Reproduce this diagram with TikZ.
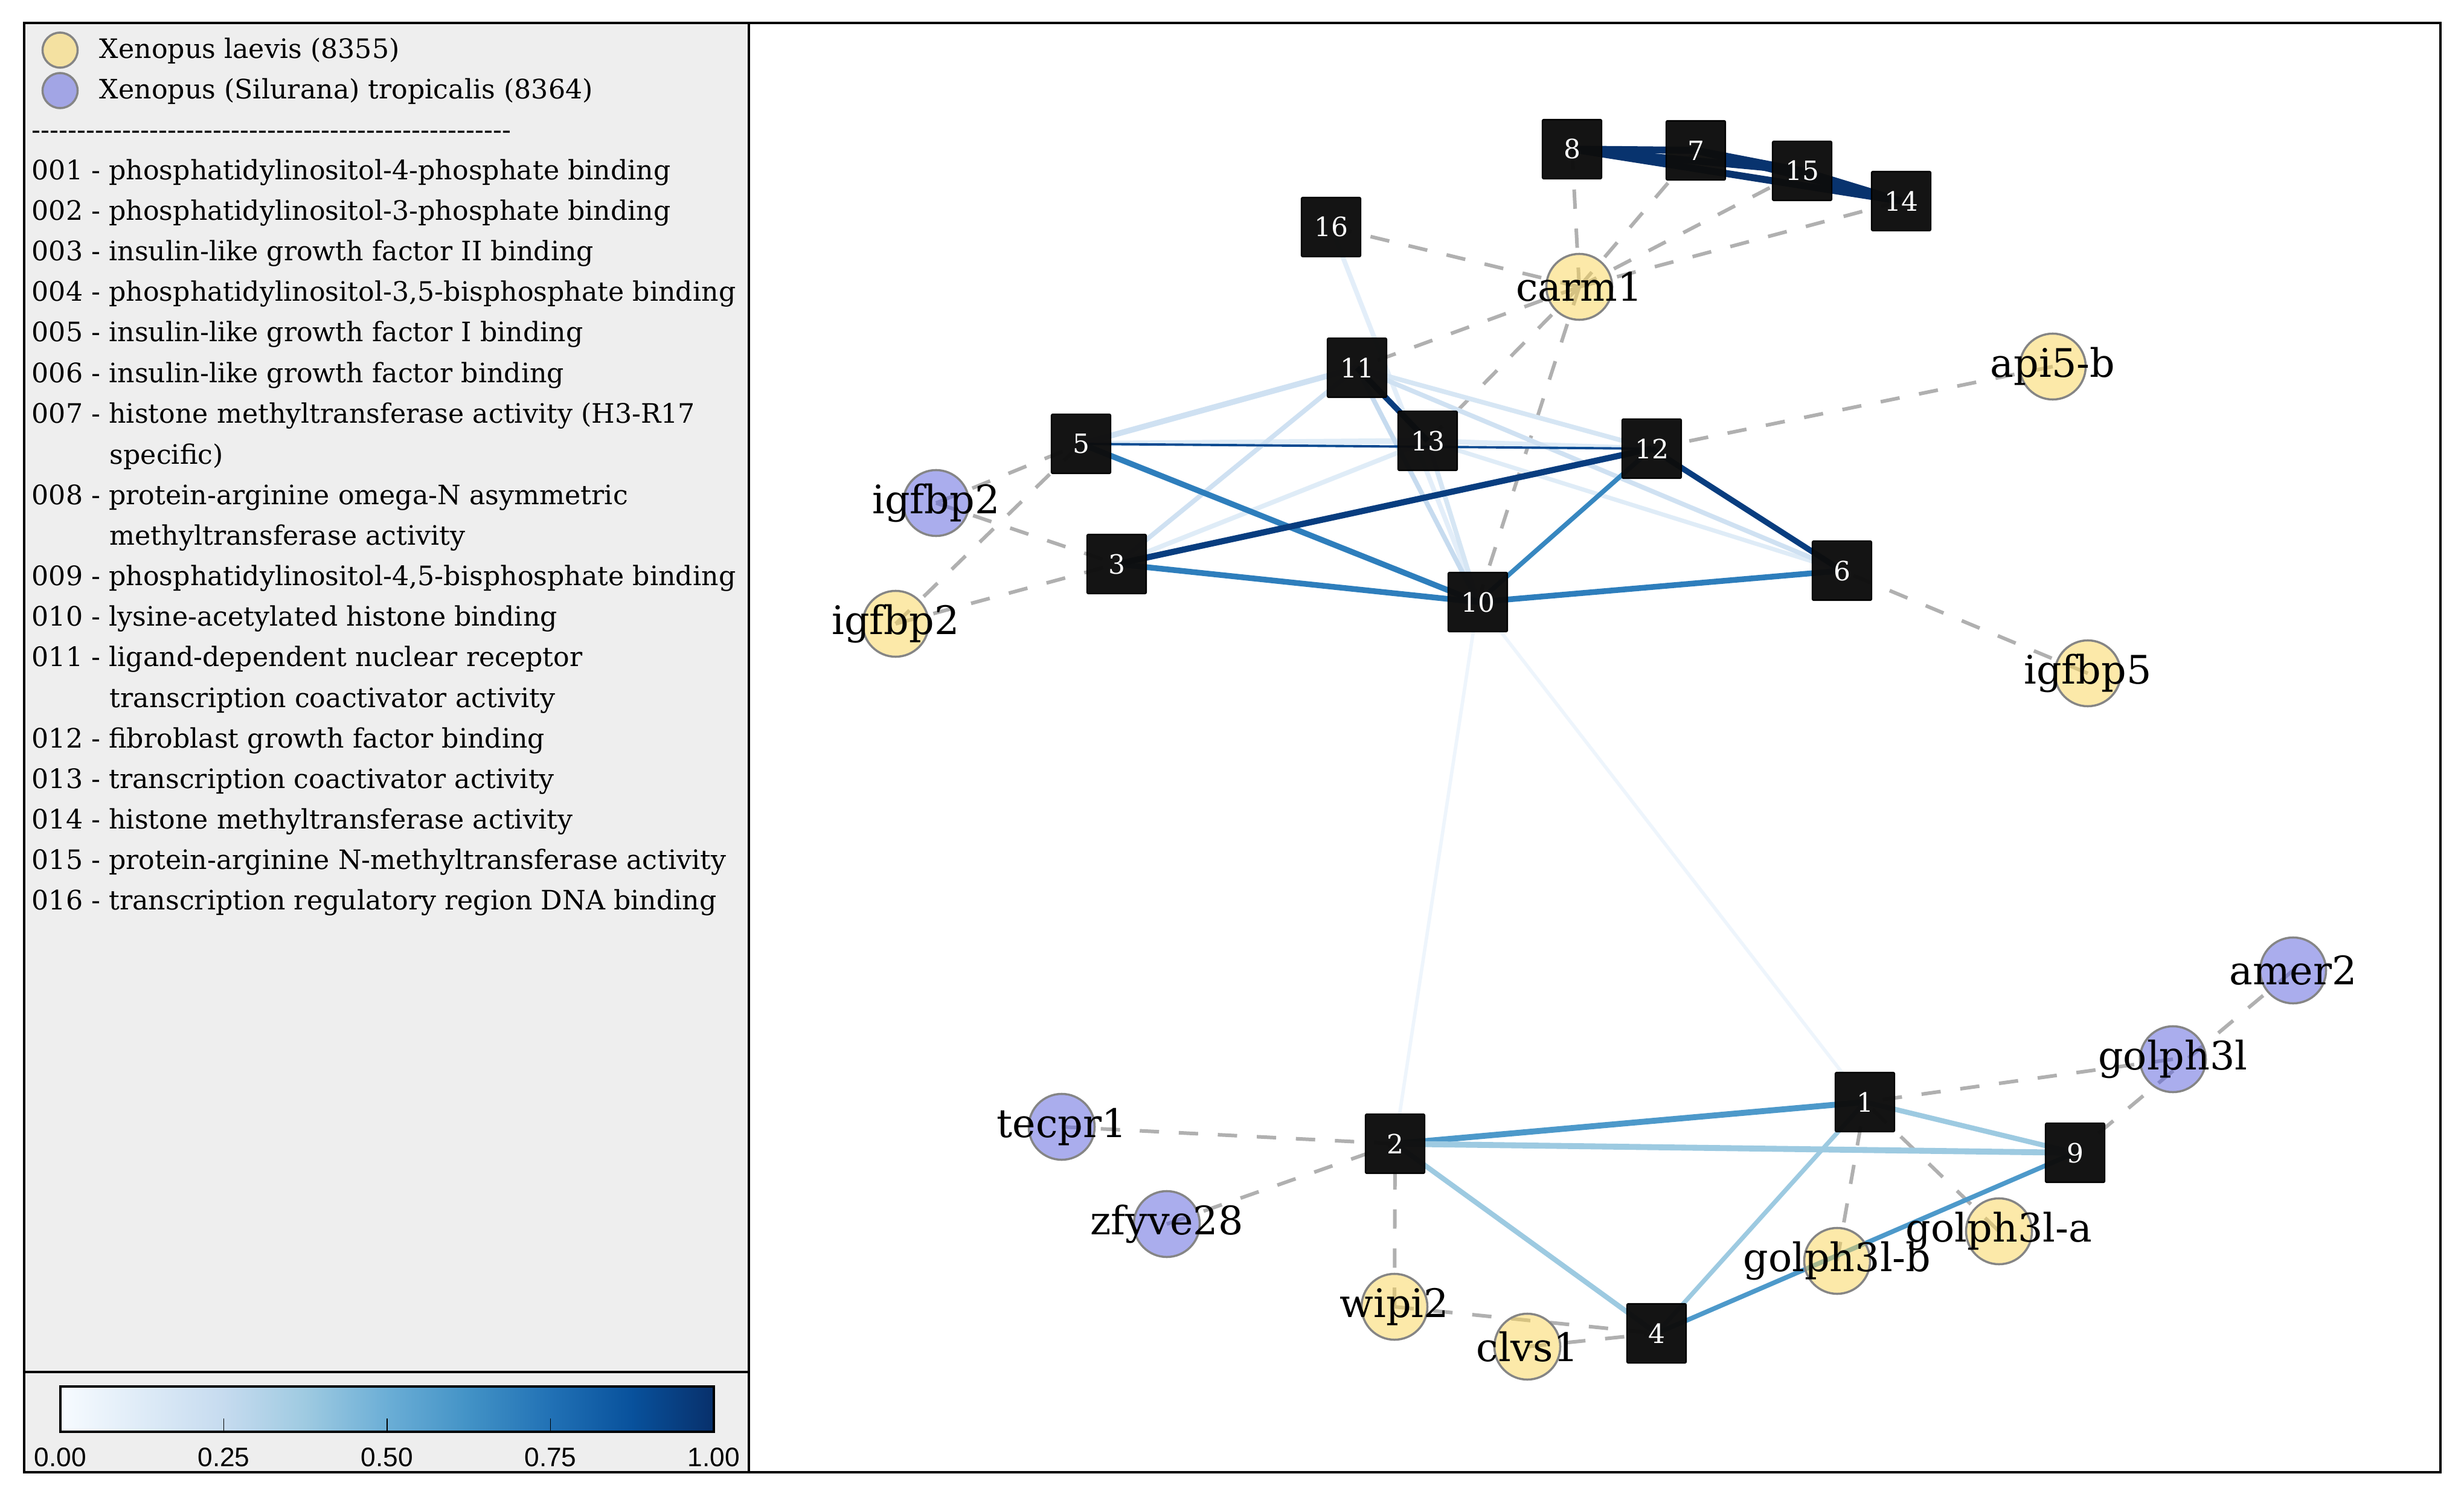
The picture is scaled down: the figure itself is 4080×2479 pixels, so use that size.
\documentclass[tikz,border=0pt]{standalone}
\usepackage{fontspec}
\setmainfont{DejaVu Serif}
\newfontfamily\tickfont{Liberation Sans}
\pgfdeclarelayer{bg}
\pgfdeclarelayer{edges}
\pgfsetlayers{bg,edges,main}
\definecolor{panel}{HTML}{EEEEEE}
\definecolor{yel}{RGB}{251,213,85}
\definecolor{blu}{RGB}{87,93,221}
\definecolor{cedge}{HTML}{858585}
\definecolor{dgray}{HTML}{B0B0B0}
\definecolor{sqfill}{HTML}{0D0D0D}
\definecolor{cA}{HTML}{08336E}
\definecolor{cB}{HTML}{083D7F}
\definecolor{cC}{HTML}{084A91}
\definecolor{cD}{HTML}{2E7EBC}
\definecolor{cE}{HTML}{3787C0}
\definecolor{cF}{HTML}{4D99CA}
\definecolor{cG}{HTML}{9DCAE1}
\definecolor{Lone}{HTML}{C6DBEF}
\definecolor{Ltwo}{HTML}{CFE1F2}
\definecolor{Lthree}{HTML}{D6E6F4}
\definecolor{Lfour}{HTML}{DFECF7}
\definecolor{Lfive}{HTML}{E3EEF9}
\definecolor{Lsix}{HTML}{EEF5FC}
\definecolor{bzero}{HTML}{F7FBFF}
\definecolor{bone}{HTML}{DEEBF7}
\definecolor{btwo}{HTML}{C6DBEF}
\definecolor{bthree}{HTML}{9ECAE1}
\definecolor{bfour}{HTML}{6BAED6}
\definecolor{bfive}{HTML}{4292C6}
\definecolor{bsix}{HTML}{2171B5}
\definecolor{bseven}{HTML}{08519C}
\definecolor{beight}{HTML}{08306B}
\begin{document}
\begin{tikzpicture}[x=0.01cm,y=-0.01cm,
  sq/.style={draw=black, fill=sqfill, fill opacity=0.97, text opacity=1, line width=0.6pt,
    minimum size=0.98cm, inner sep=0pt, rounded corners=0.6pt, text=white,
    font=\fontsize{12.5}{15}\selectfont},
  gY/.style={circle, draw=cedge, line width=1pt, fill=yel, fill opacity=0.5, minimum size=1.09cm, inner sep=0pt},
  gB/.style={circle, draw=cedge, line width=1pt, fill=blu, fill opacity=0.5, minimum size=1.09cm, inner sep=0pt},
  lgY/.style={circle, draw=cedge, line width=1pt, fill=yel, fill opacity=0.5, minimum size=0.58cm, inner sep=0pt},
  lgB/.style={circle, draw=cedge, line width=1pt, fill=blu, fill opacity=0.5, minimum size=0.58cm, inner sep=0pt},
  lab/.style={inner sep=0pt, font=\fontsize{18.5}{22}\selectfont},
  leg/.style={inner sep=0pt, anchor=base west, font=\fontsize{12.6}{15}\selectfont},
  tick/.style={inner sep=0pt, font=\tickfont\fontsize{12.6}{15}\selectfont},
  dsh/.style={draw=dgray, line width=1.7pt, dash pattern=on 9.1pt off 9.3pt},
  se/.style={line width=#1},
  se/.default=2pt]
\useasboundingbox (0,0) rectangle (4080,2479);
% panels
\begin{pgfonlayer}{bg}
\fill[white] (0,0) rectangle (4080,2479);
\fill[panel] (40,38) rectangle (1240,2438);
\end{pgfonlayer}
\draw[line width=1.15pt] (40,38) rectangle (1240,2438);
\draw[line width=1.15pt] (1240,38) rectangle (4041,2438);
\draw[line width=1.15pt] (40,2272) -- (1240,2272);
% legend
\node[lgY] (legY) at (99.5,83) {};
\node[lgB] (legB) at (99.5,150) {};
\node[leg] (l0) at (164,97) {Xenopus laevis (8355)};
\node[leg] (l1) at (164,164) {Xenopus (Silurana) tropicalis (8364)};
\node[leg] (l2) at (52,231) {\foreach \k in {1,...,53}{-\kern0pt}};
\node[leg] (l3) at (52,298) {001 - phosphatidylinositol-4-phosphate binding};
\node[leg] (l4) at (52,365) {002 - phosphatidylinositol-3-phosphate binding};
\node[leg] (l5) at (52,432) {003 - insulin-like growth factor II binding};
\node[leg] (l6) at (52,499) {004 - phosphatidylinositol-3,5-bisphosphate binding};
\node[leg] (l7) at (52,566) {005 - insulin-like growth factor I binding};
\node[leg] (l8) at (52,634) {006 - insulin-like growth factor binding};
\node[leg] (l9) at (52,701) {007 - histone methyltransferase activity (H3-R17};
\node[leg] (l10) at (181,768) {specific)};
\node[leg] (l11) at (52,835) {008 - protein-arginine omega-N asymmetric};
\node[leg] (l12) at (181,902) {methyltransferase activity};
\node[leg] (l13) at (52,969) {009 - phosphatidylinositol-4,5-bisphosphate binding};
\node[leg] (l14) at (52,1036) {010 - lysine-acetylated histone binding};
\node[leg] (l15) at (52,1103) {011 - ligand-dependent nuclear receptor};
\node[leg] (l16) at (181,1171) {transcription coactivator activity};
\node[leg] (l17) at (52,1238) {012 - fibroblast growth factor binding};
\node[leg] (l18) at (52,1305) {013 - transcription coactivator activity};
\node[leg] (l19) at (52,1372) {014 - histone methyltransferase activity};
\node[leg] (l20) at (52,1439) {015 - protein-arginine N-methyltransferase activity};
\node[leg] (l21) at (52,1506) {016 - transcription regulatory region DNA binding};
% colorbar
\shade[left color=bzero,right color=bone] (100,2296) rectangle (236.25,2371);
\shade[left color=bone,right color=btwo] (235.25,2296) rectangle (371.5,2371);
\shade[left color=btwo,right color=bthree] (370.5,2296) rectangle (506.75,2371);
\shade[left color=bthree,right color=bfour] (505.75,2296) rectangle (642,2371);
\shade[left color=bfour,right color=bfive] (641,2296) rectangle (777.25,2371);
\shade[left color=bfive,right color=bsix] (776.25,2296) rectangle (912.5,2371);
\shade[left color=bsix,right color=bseven] (911.5,2296) rectangle (1047.75,2371);
\shade[left color=bseven,right color=beight] (1046.75,2296) rectangle (1182,2371);
\foreach \tx in {370.5,641,911.5}{\draw[line width=0.45pt] (\tx,2371) -- (\tx,2349);}
\draw[line width=1.15pt] (100,2296) rectangle (1182,2371);
\node[tick] (t0) at (100,2413) {0.00};
\node[tick] (t1) at (370.5,2413) {0.25};
\node[tick] (t2) at (641,2413) {0.50};
\node[tick] (t3) at (911.5,2413) {0.75};
\node[tick] (t4) at (1182,2413) {1.00};
% gene nodes
\node[gY] (carm1) at (2615,475) {};
\node[gY] (api5b) at (3399,607) {};
\node[gB] (igfbp2b) at (1550,833) {};
\node[gY] (igfbp2y) at (1483,1033) {};
\node[gY] (igfbp5) at (3457,1115) {};
\node[gB] (amer2) at (3797,1607) {};
\node[gB] (golph3l) at (3598,1754) {};
\node[gB] (tecpr1) at (1758,1866) {};
\node[gB] (zfyve28) at (1932,2027) {};
\node[gY] (golph3lb) at (3042,2088) {};
\node[gY] (golph3la) at (3310,2039) {};
\node[gY] (wipi2) at (2309,2164) {};
\node[gY] (clvs1) at (2529,2230) {};
% term nodes
\node[sq] (n1) at (3088,1825) {1};
\node[sq] (n2) at (2310,1894) {2};
\node[sq] (n3) at (1849,934) {3};
\node[sq] (n4) at (2743,2208) {4};
\node[sq] (n5) at (1790,735) {5};
\node[sq] (n6) at (3050,945) {6};
\node[sq] (n7) at (2808,249) {7};
\node[sq] (n8) at (2603,247) {8};
\node[sq] (n9) at (3436,1909) {9};
\node[sq] (n10) at (2447,997) {10};
\node[sq] (n11) at (2247,609) {11};
\node[sq] (n12) at (2735,743) {12};
\node[sq] (n13) at (2364,730) {13};
\node[sq] (n14) at (3148,333) {14};
\node[sq] (n15) at (2984,283) {15};
\node[sq] (n16) at (2204,376) {16};
% labels
\node[lab] (carm1-l) at (carm1) {carm1};
\node[lab] (api5b-l) at (api5b) {api5-b};
\node[lab] (igfbp2b-l) at (igfbp2b) {igfbp2};
\node[lab] (igfbp2y-l) at (igfbp2y) {igfbp2};
\node[lab] (igfbp5-l) at (igfbp5) {igfbp5};
\node[lab] (amer2-l) at (amer2) {amer2};
\node[lab] (golph3l-l) at (golph3l) {golph3l};
\node[lab] (tecpr1-l) at (tecpr1) {tecpr1};
\node[lab] (zfyve28-l) at (zfyve28) {zfyve28};
\node[lab] (golph3lb-l) at (golph3lb) {golph3l-b};
\node[lab] (golph3la-l) at (golph3la) {golph3l-a};
\node[lab] (wipi2-l) at (wipi2) {wipi2};
\node[lab] (clvs1-l) at (clvs1) {clvs1};
% edges
\begin{pgfonlayer}{edges}
\foreach \t in {n8,n7,n15,n14,n16,n11,n13,n10}{\draw[dsh] (carm1.center) -- (\t.center);}
\draw[dsh] (api5b.center) -- (n12.center);
\draw[dsh] (igfbp5.center) -- (n6.center);
\draw[dsh] (igfbp2b.center) -- (n5.center);
\draw[dsh] (igfbp2b.center) -- (n3.center);
\draw[dsh] (igfbp2y.center) -- (n5.center);
\draw[dsh] (igfbp2y.center) -- (n3.center);
\draw[dsh] (tecpr1.center) -- (n2.center);
\draw[dsh] (zfyve28.center) -- (n2.center);
\draw[dsh] (wipi2.center) -- (n2.center);
\draw[dsh] (wipi2.center) -- (n4.center);
\draw[dsh] (clvs1.center) -- (n4.center);
\draw[dsh] (golph3lb.center) -- (n1.center);
\draw[dsh] (golph3la.center) -- (n1.center);
\draw[dsh] (golph3l.center) -- (n1.center);
\draw[dsh] (amer2.center) -- (n9.center);
% solid term-term edges
\draw[se=1.6pt, Lsix] (n10.center) -- (n2.center);
\draw[se=1.6pt, Lsix] (n10.center) -- (n1.center);
\draw[se=2.2pt, Lfive] (n16.center) -- (n10.center);
\draw[se=2.2pt, Lfour] (n13.center) -- (n3.center);
\draw[se=2.7pt, Lfour] (n13.center) -- (n5.center);
\draw[se=2.4pt, Lfour] (n13.center) -- (n12.center);
\draw[se=2.0pt, Lfour] (n13.center) -- (n6.center);
\draw[se=2.2pt, Lthree] (n13.center) -- (n10.center);
\draw[se=2.2pt, Lthree] (n11.center) -- (n12.center);
\draw[se=2.7pt, Ltwo] (n11.center) -- (n5.center);
\draw[se=2.2pt, Ltwo] (n11.center) -- (n3.center);
\draw[se=2.2pt, Ltwo] (n11.center) -- (n6.center);
\draw[se=2.2pt, Lone] (n11.center) -- (n10.center);
\draw[se=2.7pt, cD] (n5.center) -- (n10.center);
\draw[se=2.7pt, cD] (n3.center) -- (n10.center);
\draw[se=2.7pt, cD] (n10.center) -- (n6.center);
\draw[se=2.2pt, cE] (n12.center) -- (n10.center);
\draw[se=1.1pt, cC] (n5.center) -- (n12.center);
\draw[se=2.9pt, cB] (n3.center) -- (n12.center);
\draw[se=2.7pt, cB] (n12.center) -- (n6.center);
\draw[se=2.7pt, cB] (n11.center) -- (n13.center);
\draw[se=3.3pt, cA] (n8.center) -- (n7.center);
\draw[se=3.3pt, cA] (n8.center) -- (n15.center);
\draw[se=3.3pt, cA] (n8.center) -- (n14.center);
\draw[se=3.3pt, cA] (n7.center) -- (n15.center);
\draw[se=3.3pt, cA] (n7.center) -- (n14.center);
\draw[se=3.3pt, cA] (n15.center) -- (n14.center);
\draw[se=2.8pt, cF] (n2.center) -- (n1.center);
\draw[se=2.8pt, cG] (n2.center) -- (n9.center);
\draw[se=2.4pt, cG] (n2.center) -- (n4.center);
\draw[se=2.1pt, cG] (n1.center) -- (n4.center);
\draw[se=2.4pt, cG] (n1.center) -- (n9.center);
\draw[se=2.2pt, cF] (n4.center) -- (n9.center);
\end{pgfonlayer}
\end{tikzpicture}
\end{document}
